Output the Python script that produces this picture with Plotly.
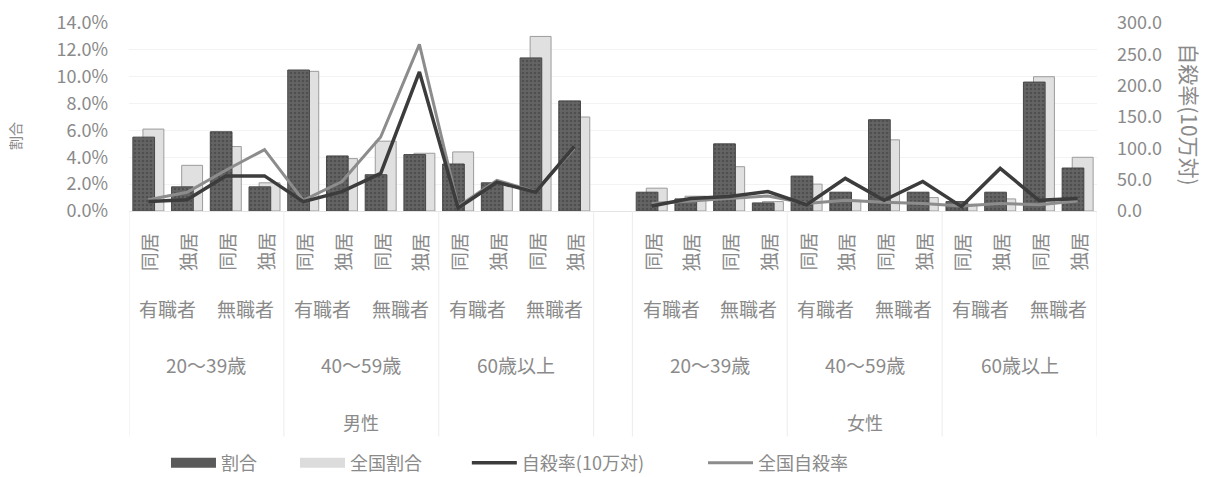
import plotly.graph_objects as go

# ---------------- data ----------------
genders = ["男性", "女性"]
ages = ["20～39歳", "40～59歳", "60歳以上"]
jobs = ["有職者", "無職者"]
living = ["同居", "独居"]

# 割合 (%)  order: age -> job -> living
male_ratio = [5.5, 1.8, 5.9, 1.8, 10.5, 4.1, 2.7, 4.2, 3.5, 2.1, 11.4, 8.2]
female_ratio = [1.4, 0.9, 5.0, 0.6, 2.6, 1.4, 6.8, 1.4, 0.7, 1.4, 9.6, 3.2]
# 全国割合 (%)
male_nat_ratio = [6.1, 3.4, 4.8, 2.1, 10.4, 3.9, 5.2, 4.3, 4.4, 2.0, 13.0, 7.0]
female_nat_ratio = [1.7, 1.1, 3.3, 0.7, 2.0, 0.8, 5.3, 1.0, 0.5, 0.9, 10.0, 4.0]
# 自殺率 (10万対)
male_rate = [15, 18, 56, 56, 15, 31, 60, 222, 5, 46, 30, 103]
female_rate = [8, 20, 23, 31, 10, 52, 17, 47, 7, 68, 17, 20]
# 全国自殺率
male_nat_rate = [18, 30, 65, 98, 17, 47, 118, 266, 7, 49, 31, 100]
female_nat_rate = [12, 16, 20, 24, 12, 17, 14, 12, 8, 12, 10, 16]

legend_names = ["割合", "全国割合", "自殺率(10万対)", "全国自殺率"]

# ---------------- build ----------------
n_per = len(ages) * len(jobs) * len(living)          # 12
x = list(range(2 * n_per + 1))                       # one blank slot between genders
ratio = male_ratio + [None] + female_ratio
nat_ratio = male_nat_ratio + [None] + female_nat_ratio
rate = male_rate + [None] + female_rate
nat_rate = male_nat_rate + [None] + female_nat_rate

FONT = "Noto Sans CJK JP"
GREY_TXT = "#8a8a8a"
DARK = "#5a5a5a"
LIGHT = "#e0e0e0"

fig = go.Figure()

fig.add_trace(go.Bar(
    x=x, y=nat_ratio, name=legend_names[1], yaxis="y",
    width=0.54, offset=-0.14,
    marker=dict(color=LIGHT, line=dict(color="#9c9c9c", width=1)),
    showlegend=False, hoverinfo="skip"))
fig.add_trace(go.Bar(
    x=x, y=ratio, name=legend_names[0], yaxis="y",
    width=0.56, offset=-0.40,
    marker=dict(color=DARK, line=dict(color="#474747", width=1),
                pattern=dict(shape=".", fgcolor="#3a3a3a", bgcolor="#646464",
                             size=4, solidity=0.35)),
    showlegend=False, hoverinfo="skip"))
fig.add_trace(go.Scatter(
    x=x, y=nat_rate, name=legend_names[3], yaxis="y2", mode="lines",
    line=dict(color="#8c8c8c", width=3), connectgaps=False, legend="legend4"))
fig.add_trace(go.Scatter(
    x=x, y=rate, name=legend_names[2], yaxis="y2", mode="lines",
    line=dict(color="#3c3c3c", width=3.5), connectgaps=False, legend="legend3"))
# legend swatches for the bar series
fig.add_trace(go.Scatter(x=[None], y=[None], name=legend_names[0], mode="lines",
                         line=dict(color=DARK, width=12), legend="legend"))
fig.add_trace(go.Scatter(x=[None], y=[None], name=legend_names[1], mode="lines",
                         line=dict(color="#dcdcdc", width=12), legend="legend2"))

# ---------------- category labels ----------------
annotations = []
shapes = []
for g, gname in enumerate(genders):
    base = g * (n_per + 1)
    annotations.append(dict(x=base + (n_per - 1) / 2, y=0, xref="x", yref="paper",
                            yshift=-211, yanchor="middle", xanchor="center",
                            text=gname, showarrow=False,
                            font=dict(size=18, color=GREY_TXT)))
    for a, aname in enumerate(ages):
        a0 = base + a * 4
        annotations.append(dict(x=a0 + 1.5, y=0, xref="x", yref="paper",
                                yshift=-153, yanchor="middle", xanchor="center",
                                text=aname, showarrow=False,
                                font=dict(size=19, color=GREY_TXT)))
        for j, jname in enumerate(jobs):
            j0 = a0 + j * 2
            annotations.append(dict(x=j0 + 0.5, y=0, xref="x", yref="paper",
                                    yshift=-97, yanchor="middle", xanchor="center",
                                    text=jname, showarrow=False,
                                    font=dict(size=19, color=GREY_TXT)))
            for l, lname in enumerate(living):
                annotations.append(dict(x=j0 + l, y=0, xref="x", yref="paper",
                                        yshift=-41, yanchor="middle", xanchor="center",
                                        text=lname, textangle=-90,
                                        showarrow=False,
                                        font=dict(size=19, color=GREY_TXT)))
        # faint separators between age groups
        shapes.append(dict(type="line", xref="x", yref="paper",
                           x0=a0 - 0.5, x1=a0 - 0.5, y0=0, y1=-1.2,
                           line=dict(color="#ececec", width=1)))
    shapes.append(dict(type="line", xref="x", yref="paper",
                       x0=base + n_per - 0.5, x1=base + n_per - 0.5, y0=0, y1=-1.2,
                       line=dict(color="#ececec", width=1)))

# axis titles
annotations.append(dict(x=-0.1175, y=0.40, xref="paper", yref="paper", text="割合",
                        xanchor="center", yanchor="middle",
                        textangle=-90, showarrow=False,
                        font=dict(size=14, color=GREY_TXT)))
annotations.append(dict(x=1.096, y=0.51, xref="paper", yref="paper",
                        xanchor="center", yanchor="middle",
                        text="自殺率(10万対)", textangle=90, showarrow=False,
                        font=dict(size=21, color=GREY_TXT)))

leg_common = dict(orientation="h", xanchor="left", yref="container",
                  y=(477 - 463) / 477, yanchor="middle",
                  itemwidth=45, font=dict(size=18, color=GREY_TXT),
                  bgcolor="rgba(0,0,0,0)")

fig.update_layout(
    width=1219, height=477,
    margin=dict(l=129, r=122, t=23, b=266, autoexpand=False),
    paper_bgcolor="white", plot_bgcolor="white",
    font=dict(family=FONT, color=GREY_TXT),
    barmode="overlay",
    xaxis=dict(range=[-0.5, 2 * n_per + 0.5], showticklabels=False, showgrid=False,
               zeroline=False, showline=True, linecolor="#e4e4e4", ticks=""),
    yaxis=dict(range=[0, 14], dtick=2, tickformat=".1f", ticksuffix="%",
               showgrid=True, gridcolor="#f3f3f3", zeroline=False, showline=False,
               ticklabelstandoff=20, tickfont=dict(size=18, color=GREY_TXT)),
    yaxis2=dict(range=[0, 300], dtick=50, tickformat=".1f", overlaying="y",
                side="right", showgrid=False, zeroline=False, showline=False,
                ticklabelstandoff=19, tickfont=dict(size=18, color=GREY_TXT)),
    legend=dict(x=0.0382, **leg_common),
    legend2=dict(x=0.1715, **leg_common),
    legend3=dict(x=0.349, **leg_common),
    legend4=dict(x=0.593, **leg_common),
    annotations=annotations,
    shapes=shapes,
)

fig.write_html("out.html")
